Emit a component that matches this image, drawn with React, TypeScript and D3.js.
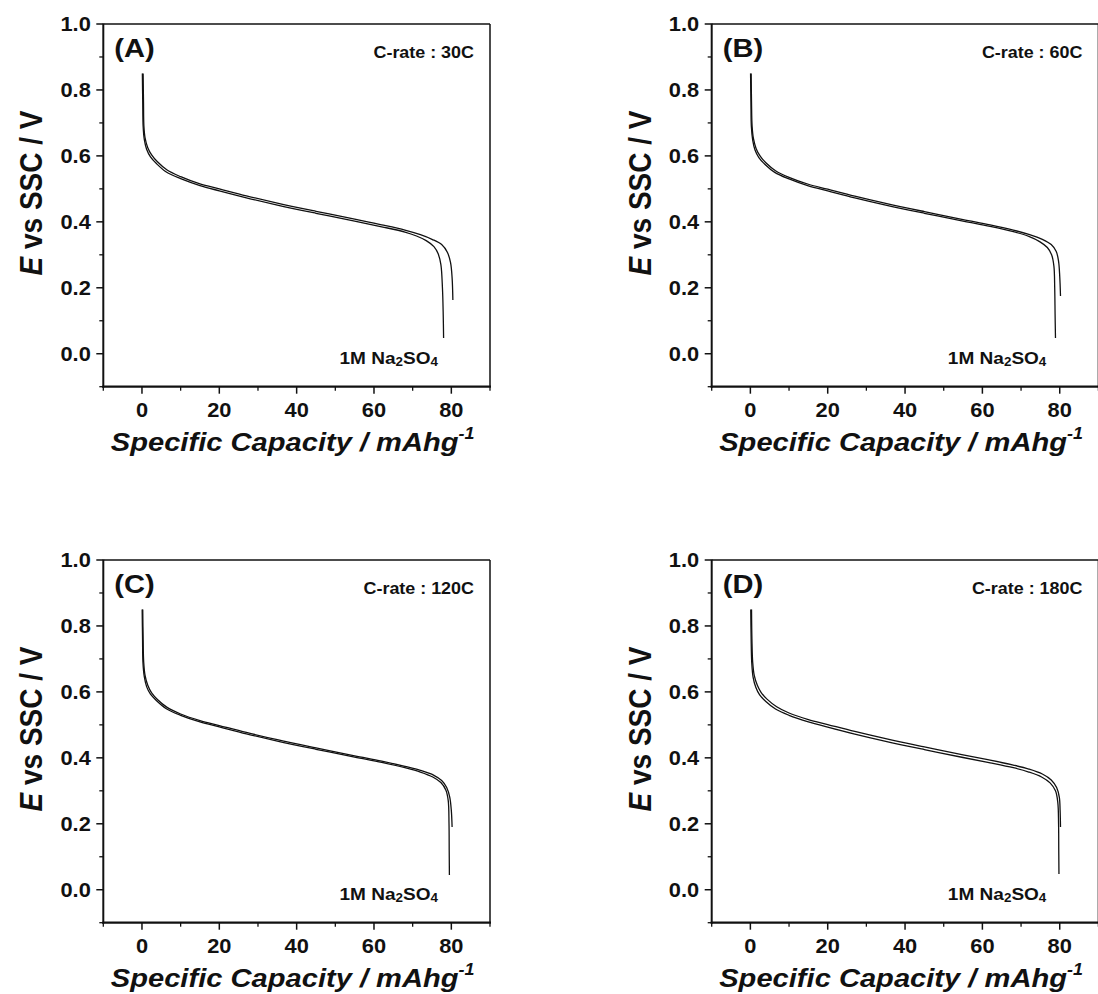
import React from 'react';
import * as d3 from 'd3';

// ---------- data ----------
const xMajorTicks = [0, 20, 40, 60, 80];
const xMinorTicks = [-10, 10, 30, 50, 70, 90];
const yMajorTicks = [0.0, 0.2, 0.4, 0.6, 0.8, 1.0];
const yMinorTicks = [-0.1, 0.1, 0.3, 0.5, 0.7, 0.9];
const panelLabels = ['(A)', '(B)', '(C)', '(D)'];
const cRateLabels = ['C-rate : 30C', 'C-rate : 60C', 'C-rate : 120C', 'C-rate : 180C'];

// Panel A (30C)
const a30Upper: [number, number][] = [
  [0.3, 0.85], [0.4, 0.76], [0.5, 0.69], [0.8, 0.655], [1.5, 0.625], [2.5, 0.603], [4, 0.582],
  [6.5, 0.557], [10, 0.537], [15, 0.515], [20, 0.5], [27, 0.479], [35, 0.457], [45, 0.432],
  [55, 0.408], [62, 0.391], [68, 0.375], [72, 0.361], [75, 0.347], [77.5, 0.331], [79, 0.307],
  [79.8, 0.276], [80.2, 0.23], [80.4, 0.163],
];
const a30Lower: [number, number][] = [
  [0.1, 0.85], [0.2, 0.76], [0.3, 0.69], [0.6, 0.65], [1.2, 0.62], [2.2, 0.597], [3.8, 0.576],
  [6.3, 0.551], [10, 0.531], [15, 0.51], [20, 0.494], [27, 0.473], [35, 0.451], [45, 0.426],
  [55, 0.402], [62, 0.385], [68, 0.369], [71, 0.357], [73.5, 0.343], [75.5, 0.325], [76.6, 0.303],
  [77.3, 0.27], [77.7, 0.2], [77.9, 0.12], [78.0, 0.048],
];
// Panel B (60C)
const b60Upper: [number, number][] = [
  [0.2, 0.85], [0.3, 0.76], [0.45, 0.69], [0.8, 0.652], [1.5, 0.622], [2.5, 0.6], [4, 0.579],
  [6.5, 0.555], [10, 0.535], [15, 0.514], [20, 0.499], [27, 0.478], [35, 0.456], [45, 0.431],
  [55, 0.407], [62, 0.391], [68, 0.375], [72, 0.362], [75.5, 0.347], [77.8, 0.331], [79.1, 0.31],
  [79.7, 0.28], [80.0, 0.235], [80.2, 0.175],
];
const b60Lower: [number, number][] = [
  [0.05, 0.85], [0.15, 0.76], [0.25, 0.69], [0.6, 0.648], [1.2, 0.618], [2.2, 0.595], [3.8, 0.574],
  [6.3, 0.55], [10, 0.53], [15, 0.509], [20, 0.494], [27, 0.473], [35, 0.451], [45, 0.426],
  [55, 0.402], [62, 0.386], [68, 0.37], [72, 0.356], [74.8, 0.34], [76.8, 0.322], [77.9, 0.3],
  [78.5, 0.265], [78.7, 0.2], [78.8, 0.12], [78.9, 0.048],
];
// Panel C (120C)
const c120Upper: [number, number][] = [
  [0.2, 0.85], [0.3, 0.76], [0.45, 0.69], [0.8, 0.65], [1.5, 0.62], [2.5, 0.597], [4, 0.577],
  [6.5, 0.553], [10, 0.533], [15, 0.513], [20, 0.498], [27, 0.477], [35, 0.455], [45, 0.43],
  [55, 0.406], [62, 0.39], [68, 0.374], [72, 0.362], [75.5, 0.347], [77.5, 0.331], [78.8, 0.31],
  [79.6, 0.28], [80.0, 0.24], [80.2, 0.19],
];
const c120Lower: [number, number][] = [
  [0.05, 0.85], [0.15, 0.76], [0.25, 0.69], [0.6, 0.646], [1.2, 0.616], [2.2, 0.593], [3.8, 0.573],
  [6.3, 0.549], [10, 0.529], [15, 0.509], [20, 0.494], [27, 0.473], [35, 0.451], [45, 0.426],
  [55, 0.402], [62, 0.386], [68, 0.37], [72, 0.357], [75.2, 0.342], [77.3, 0.325], [78.6, 0.302],
  [79.2, 0.27], [79.4, 0.2], [79.45, 0.12], [79.5, 0.045],
];
// Panel D (180C)
const d180Upper: [number, number][] = [
  [0.3, 0.85], [0.4, 0.76], [0.6, 0.69], [1.0, 0.65], [1.8, 0.62], [2.8, 0.598], [4.3, 0.578],
  [6.8, 0.555], [10, 0.536], [15, 0.516], [20, 0.501], [27, 0.48], [35, 0.458], [45, 0.433],
  [55, 0.409], [62, 0.393], [68, 0.378], [72, 0.366], [75.5, 0.351], [77.8, 0.333], [79.2, 0.31],
  [79.9, 0.28], [80.1, 0.24], [80.2, 0.19],
];
const d180Lower: [number, number][] = [
  [0.1, 0.85], [0.2, 0.76], [0.35, 0.69], [0.7, 0.645], [1.4, 0.614], [2.4, 0.591], [4.0, 0.571],
  [6.5, 0.548], [10, 0.529], [15, 0.509], [20, 0.493], [27, 0.472], [35, 0.45], [45, 0.425],
  [55, 0.401], [62, 0.385], [68, 0.37], [72, 0.357], [75.3, 0.342], [77.5, 0.324], [78.9, 0.3],
  [79.5, 0.265], [79.7, 0.2], [79.75, 0.12], [79.8, 0.048],
];

const panelCurves = [
  [a30Upper, a30Lower],
  [b60Upper, b60Lower],
  [c120Upper, c120Lower],
  [d180Upper, d180Lower],
];

// ---------- layout ----------
const W = 1098;
const H = 994;
const panelOrigins = [
  { left: 103.3, top: 24 },
  { left: 711.7, top: 24 },
  { left: 103.3, top: 560 },
  { left: 711.7, top: 560 },
];
const PW = 386.7;
const PH = 362.7;
const SX = 1.12; // horizontal text stretch of the reference
const FONT = '"Liberation Sans", Arial, Helvetica, sans-serif';
const INK = '#111';

function T(props: {
  x: number; y: number; size: number; anchor?: string; italic?: boolean; rotate?: boolean;
  children: React.ReactNode;
}) {
  const { x, y, size, anchor = 'start', italic = false, rotate = false, children } = props;
  const tr = rotate
    ? `translate(${x},${y}) scale(${SX},1) rotate(-90)`
    : `translate(${x},${y}) scale(${SX},1)`;
  return (
    <text
      transform={tr}
      fontFamily={FONT}
      fontWeight="bold"
      fontStyle={italic ? 'italic' : 'normal'}
      fontSize={size}
      textAnchor={anchor}
      fill={INK}
    >
      {children}
    </text>
  );
}

function Panel({ idx }: { idx: number }) {
  const { left, top } = panelOrigins[idx];
  const x = d3.scaleLinear().domain([-10, 90]).range([left, left + PW]);
  const y = d3.scaleLinear().domain([-0.1, 1.0]).range([top + PH, top]);
  const line = d3
    .line<[number, number]>()
    .x((d) => x(d[0]))
    .y((d) => y(d[1]))
    .curve(d3.curveCatmullRom.alpha(0.5));
  const bottom = top + PH;
  const right = left + PW;
  const fmt = d3.format('.1f');

  return (
    <g>
      {/* curves */}
      <g clipPath={`url(#clip${idx})`}>
        {panelCurves[idx].map((c, i) => (
          <path key={i} d={line(c) || ''} fill="none" stroke={INK} strokeWidth={1.3} />
        ))}
      </g>
      {/* frame */}
      <line x1={left} x2={right} y1={top} y2={top} stroke={INK} strokeWidth={1.5} />
      <line x1={right} x2={right} y1={top} y2={bottom} stroke={INK} strokeWidth={1.5} />
      <line x1={left} x2={left} y1={top - 0.5} y2={bottom + 1} stroke={INK} strokeWidth={2} />
      <line x1={left - 1} x2={right + 1} y1={bottom} y2={bottom} stroke={INK} strokeWidth={2.2} />
      {/* y ticks */}
      {yMajorTicks.map((t) => (
        <g key={'ym' + t}>
          <line x1={left - 7} x2={left} y1={y(t)} y2={y(t)} stroke={INK} strokeWidth={1.5} />
          <T x={left - 12.5} y={y(t) + 7} size={19.5} anchor="end">{fmt(t)}</T>
        </g>
      ))}
      {yMinorTicks.map((t) => (
        <line key={'yn' + t} x1={left - 4} x2={left} y1={y(t)} y2={y(t)} stroke={INK} strokeWidth={1.3} />
      ))}
      {/* x ticks */}
      {xMajorTicks.map((t) => (
        <g key={'xm' + t}>
          <line x1={x(t)} x2={x(t)} y1={bottom} y2={bottom + 7} stroke={INK} strokeWidth={1.5} />
          <T x={x(t)} y={bottom + 30.5} size={19.5} anchor="middle">{String(t)}</T>
        </g>
      ))}
      {xMinorTicks.map((t) => (
        <line key={'xn' + t} x1={x(t)} x2={x(t)} y1={bottom} y2={bottom + 4} stroke={INK} strokeWidth={1.3} />
      ))}
      {/* axis titles */}
      <T x={left + PW / 2 - 4} y={bottom + 64.5} size={26} anchor="middle" italic>
        Specific Capacity / mAhg
        <tspan fontSize={16} dy={-12}>-1</tspan>
      </T>
      <T x={left - 61} y={top + 169} size={28} anchor="middle" rotate>
        <tspan fontStyle="italic">E</tspan> vs SSC / V
      </T>
      {/* annotations */}
      <T x={left + 11} y={top + 32.5} size={26}>{panelLabels[idx]}</T>
      <T x={x(0) + 332} y={top + 34} size={16} anchor="end">{cRateLabels[idx]}</T>
      <T x={x(0) + 197.5} y={y(0) + 10} size={17}>
        1M Na<tspan fontSize={12} dy={2}>2</tspan>
        <tspan dy={-2}>SO</tspan>
        <tspan fontSize={12} dy={2}>4</tspan>
      </T>
      <defs>
        <clipPath id={`clip${idx}`}>
          <rect x={left} y={top} width={PW} height={PH} />
        </clipPath>
      </defs>
    </g>
  );
}

export default function App() {
  return (
    <svg
      width={W}
      height={H}
      viewBox={`0 0 ${W} ${H}`}
      style={{ position: 'absolute', left: 0, top: 0, background: '#fff' }}
    >
      <rect x={0} y={0} width={W} height={H} fill="#fff" />
      {[0, 1, 2, 3].map((i) => (
        <Panel key={i} idx={i} />
      ))}
    </svg>
  );
}
